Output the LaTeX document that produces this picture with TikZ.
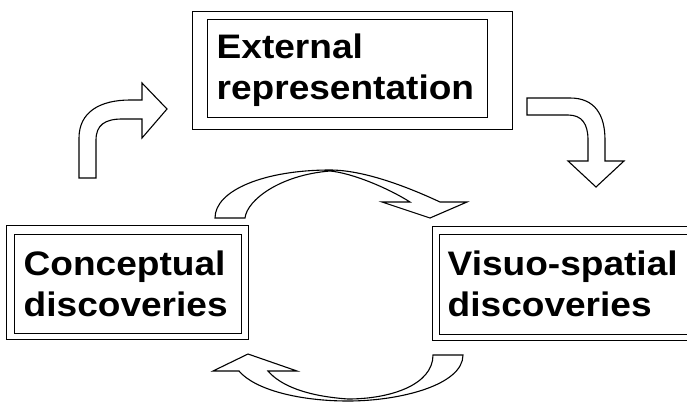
\documentclass[tikz,border=0pt]{standalone}
\usepackage{fontspec}
\newfontfamily\boxfont{Liberation Sans}[FakeStretch=1.09]
\begin{document}
\begin{tikzpicture}[x=1pt, y=-1pt, line join=miter,
  frame/.style={draw, line width=1pt, inner sep=0pt},
  box text/.style={font=\boxfont\bfseries\fontsize{34}{41.5}\selectfont, align=left, anchor=base west, inner sep=0pt},
  block arrow/.style={draw, fill=white, line width=1.1pt}]
\useasboundingbox[fill=white] (0,0) rectangle (687,402);
\begin{scope}
% the three double-framed boxes (text anchored on its last line)
\node[frame, minimum width=320pt, minimum height=118pt] (ext) at (352,70) {};
\node[frame, minimum width=280pt, minimum height=98pt] (ext in) at (347,68) {};
\node[box text] (ext text) at (216.5,99.8) {External\\representation};
\node[frame, minimum width=242pt, minimum height=114pt] (con) at (127,282) {};
\node[frame, minimum width=227pt, minimum height=99pt] (con in) at (127.5,283.5) {};
\node[box text] (con text) at (23.5,316.5) {Conceptual\\discoveries};
\node[frame, minimum width=268pt, minimum height=114pt] (vis) at (566,283) {};
\node[frame, minimum width=253pt, minimum height=100pt] (vis in) at (565.5,284) {};
\node[box text] (vis text) at (447.5,316.5) {Visuo-spatial\\discoveries};
\end{scope}
\begin{scope}
% bent arrow: up, then right
\draw[block arrow] (79,178) -- (79,138) .. controls (79,112) and (100,100) .. (130,100)
  -- (142,100) -- (142,83) -- (167,109) -- (142,138) -- (142,119) -- (122,119)
  .. controls (105,119) and (96,125) .. (96,140) -- (96,178) -- cycle;
% bent arrow: right, then down
\draw[block arrow] (527,98) -- (570,98) .. controls (595,98) and (605,115) .. (605,140)
  -- (605,161) -- (624,161) -- (596,187) -- (568,161) -- (588,161) -- (588,140)
  .. controls (588,124) and (582,115) .. (568,115) -- (527,115) -- cycle;
% curved arrow over the top
\draw[block arrow] (215,218) .. controls (215,190) and (265,170) .. (330,170)
  .. controls (365,170) and (410,188) .. (440,202) -- (467,202) -- (430,218) -- (382,202)
  -- (410,202) .. controls (388,188) and (352,173) .. (330,171)
  .. controls (280,175) and (247,200) .. (245,218) -- cycle;
% curved arrow underneath
\draw[block arrow] (463,355) .. controls (463,385) and (400,401) .. (348,401)
  .. controls (300,401) and (255,390) .. (239,371) -- (213,371) -- (248,354) -- (297,371)
  -- (268,371) .. controls (280,385) and (305,396) .. (348,399)
  .. controls (390,399) and (433,385) .. (433,355) -- cycle;
\end{scope}
\end{tikzpicture}
\end{document}
